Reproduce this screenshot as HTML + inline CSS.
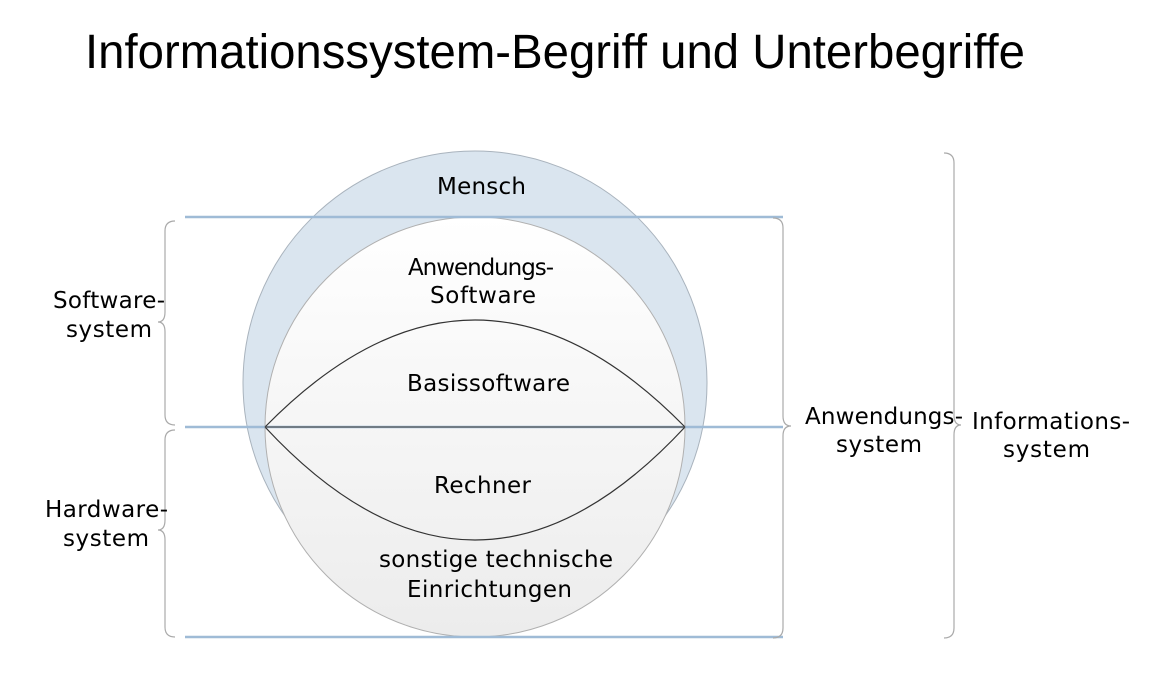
<!DOCTYPE html>
<html><head><meta charset="utf-8"><style>
html,body{margin:0;padding:0;background:#fff;}
svg{display:block;}
.t{font-family:"DejaVu Sans",sans-serif;font-size:23px;fill:#000;}
</style></head><body>
<svg width="1156" height="695" viewBox="0 0 1156 695" xmlns="http://www.w3.org/2000/svg">
<defs>
<linearGradient id="g" x1="0" y1="0" x2="0" y2="1">
<stop offset="0" stop-color="#ffffff"/><stop offset="1" stop-color="#ececec"/>
</linearGradient>
</defs>
<text x="85" y="68" font-family="Liberation Sans, sans-serif" font-size="48" textLength="940" lengthAdjust="spacingAndGlyphs">Informationssystem-Begriff und Unterbegriffe</text>
<circle cx="475" cy="383" r="232" fill="#dae5ef" stroke="#a9b3bd" stroke-width="1"/>
<circle cx="475" cy="427" r="210" fill="url(#g)" stroke="#b0b0b0" stroke-width="1"/>
<g stroke="#9fbbd6" stroke-width="2.5">
<line x1="185" y1="217" x2="783" y2="217"/>
<line x1="185" y1="427" x2="783" y2="427"/>
<line x1="185" y1="637" x2="783" y2="637"/>
</g>
<g fill="none" stroke="#333" stroke-width="1.2">
<path d="M265,427 Q475,213 685,427"/>
<path d="M265,427 Q475,653 685,427"/>
<line x1="265" y1="427" x2="685" y2="427" stroke="#555"/>
</g>
<g fill="none" stroke="#aaa" stroke-width="1.2">
<path d="M175,221 Q165,221 165,231 L165,312 Q165,322 158,322 Q165,322 165,332 L165,415 Q165,425 175,425"/>
<path d="M175,430 Q165,430 165,440 L165,520 Q165,530 158,530 Q165,530 165,540 L165,627 Q165,637 175,637"/>
<path d="M773,218 Q783,218 783,228 L783,416 Q783,426 791,426 Q783,426 783,436 L783,628 Q783,638 773,638"/>
<path d="M944,153 Q954,153 954,163 L954,415 Q954,425 961,425 Q954,425 954,435 L954,628 Q954,638 944,638"/>
</g>
<g class="t" lengthAdjust="spacingAndGlyphs">
<text class="t" x="437" y="194" textLength="89">Mensch</text>
<text class="t" x="408" y="275" textLength="146">Anwendungs-</text>
<text class="t" x="430" y="303" textLength="106">Software</text>
<text class="t" x="407" y="391" textLength="163">Basissoftware</text>
<text class="t" x="434" y="493" textLength="97">Rechner</text>
<text class="t" x="379" y="567" textLength="234">sonstige technische</text>
<text class="t" x="407" y="597" textLength="165">Einrichtungen</text>
<text class="t" x="53" y="308" textLength="112">Software-</text>
<text class="t" x="66" y="337" textLength="86">system</text>
<text class="t" x="45" y="517" textLength="123">Hardware-</text>
<text class="t" x="63" y="546" textLength="86">system</text>
<text class="t" x="805" y="424" textLength="158">Anwendungs-</text>
<text class="t" x="836" y="452" textLength="86">system</text>
<text class="t" x="972" y="429" textLength="158">Informations-</text>
<text class="t" x="1003" y="457" textLength="87">system</text>
</g>
</svg>
</body></html>
